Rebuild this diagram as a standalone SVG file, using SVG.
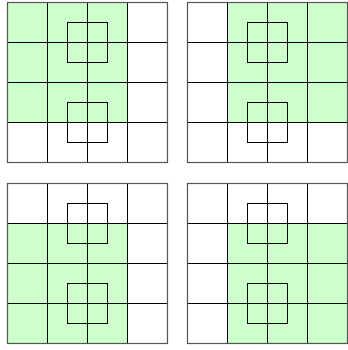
<svg xmlns="http://www.w3.org/2000/svg" width="348" height="350" viewBox="0 0 348 350">
<defs>
<style>
.g{fill:#ccffcc;stroke:none}
.ln{stroke:#000;stroke-width:1;fill:none}
.bd{stroke:#555;stroke-width:1.2;fill:none}
</style>
<g id="grid">
<path class="ln" d="M40 0V160M80 0V160M120 0V160M0 40H160M0 80H160M0 120H160"/>
<rect class="bd" x="0" y="0" width="160" height="160"/>
<rect class="ln" x="60" y="20" width="40" height="40"/>
<rect class="ln" x="60" y="100" width="40" height="40"/>
</g>
</defs>
<g id="tl" transform="translate(7.5,2.5)">
<rect class="g" x="0" y="0" width="120" height="120"/>
<use href="#grid"/>
</g>
<g id="tr" transform="translate(187.5,2.5)">
<rect class="g" x="40" y="0" width="120" height="120"/>
<use href="#grid"/>
</g>
<g id="bl" transform="translate(7.5,183.5)">
<rect class="g" x="0" y="40" width="120" height="120"/>
<use href="#grid"/>
</g>
<g id="br" transform="translate(187.5,183.5)">
<rect class="g" x="40" y="40" width="120" height="120"/>
<use href="#grid"/>
</g>
</svg>
